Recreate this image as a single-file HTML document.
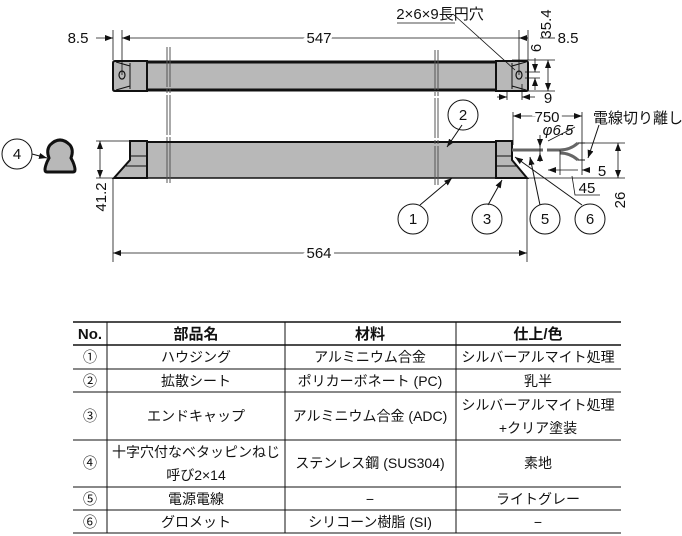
<!DOCTYPE html>
<html><head><meta charset="utf-8"><style>
body{margin:0;background:#fff;width:682px;height:536px;overflow:hidden}
svg{display:block}
text{font-family:"Liberation Sans","Noto Sans CJK JP",sans-serif;fill:#111}
.t{font-size:15px}
.r{font-size:14px}
</style></head><body>
<svg width="682" height="536" viewBox="0 0 682 536" xmlns="http://www.w3.org/2000/svg">
<defs><marker id="a" markerWidth="8" markerHeight="6" refX="8" refY="3" orient="auto-start-reverse" markerUnits="userSpaceOnUse"><path d="M0,0 L8,3 L0,6z" fill="#111"/></marker></defs>
<g stroke="#111" fill="none">
<rect x="147" y="62" width="349" height="28" fill="#b8b8b8" stroke="none"/>
<line x1="147" y1="62" x2="496" y2="62" stroke-width="3"/>
<line x1="147" y1="90" x2="496" y2="90" stroke-width="3"/>
<path d="M115,61 H147 V91 H115 Q113,91 113,89 V63 Q113,61 115,61Z" fill="#b8b8b8" stroke-width="2"/>
<path d="M130,63 V89 M116,62 L130,66 M116,90 L130,86" stroke-width="1"/>
<ellipse cx="122" cy="75" rx="3" ry="4" stroke-width="1.2"/>
<path d="M496,61 H526 Q528,61 528,63 V89 Q528,91 526,91 H496Z" fill="#b8b8b8" stroke-width="2"/>
<path d="M512,63 V89 M526,62 L512,66 M526,90 L512,86" stroke-width="1"/>
<ellipse cx="519" cy="75" rx="3" ry="4" stroke-width="1.2"/>
<rect x="147" y="142" width="349" height="36" fill="#b8b8b8" stroke="none"/>
<line x1="147" y1="142" x2="496" y2="142" stroke-width="2"/>
<line x1="147" y1="178" x2="496" y2="178" stroke-width="1.5"/>
<path d="M130,141 H147 V178 H114 L130,160Z" fill="#b8b8b8" stroke-width="2"/>
<path d="M130,156 H147 M126,166 H147" stroke-width="1"/>
<path d="M496,141 H512 V160 L527,178 H496Z" fill="#b8b8b8" stroke-width="2"/>
<path d="M496,156 H512 M496,166 H518" stroke-width="1"/>
<path d="M167,47 V185 M170,47 V185" stroke="#555" stroke-width="1" stroke-dasharray="40,2,4,2"/>
<path d="M435,50 V185 M438,50 V185" stroke="#555" stroke-width="1" stroke-dasharray="40,2,4,2"/>
<path d="M512,150 H543 M547,150 H560 Q570,150 578,143 M560,153 Q570,153 578,160" stroke="#666" stroke-width="3"/>
<path d="M578,143 H585 M578,160 H585" stroke-width="1"/>
<path d="M113,30 V60 M122,30 V75 M528,30 V60 M519,30 V75" stroke-width="0.8"/>
<line x1="96" y1="38" x2="113" y2="38" marker-end="url(#a)" stroke-width="0.8"/>
<line x1="122" y1="38" x2="528" y2="38" marker-start="url(#a)" stroke-width="0.8"/>
<line x1="519" y1="38" x2="528" y2="38" marker-start="url(#a)" stroke-width="0.8"/>
<line x1="540" y1="38" x2="555" y2="38" stroke-width="0.8"/>
<path d="M512,60 H555 M512,91 H555 M525,72 H540 M525,78 H540 M507,92 V100 M522,84 V100" stroke-width="0.8"/>
<line x1="548" y1="60" x2="548" y2="91" marker-start="url(#a)" marker-end="url(#a)" stroke-width="0.8"/>
<line x1="535" y1="58" x2="535" y2="72" marker-end="url(#a)" stroke-width="0.8"/>
<line x1="535" y1="90" x2="535" y2="78" marker-end="url(#a)" stroke-width="0.8"/>
<line x1="497" y1="97" x2="507" y2="97" marker-end="url(#a)" stroke-width="0.8"/>
<line x1="535" y1="97" x2="522" y2="97" marker-end="url(#a)" stroke-width="0.8"/>
<path d="M113,178 V262 M527,178 V262 M96,141 H130 M96,178 H114" stroke-width="0.8"/>
<line x1="100" y1="141" x2="100" y2="178" marker-start="url(#a)" marker-end="url(#a)" stroke-width="0.8"/>
<line x1="113" y1="253" x2="527" y2="253" marker-start="url(#a)" marker-end="url(#a)" stroke-width="0.8"/>
<path d="M513,112 V145 M582,112 V175" stroke-width="0.8"/>
<line x1="513" y1="116" x2="582" y2="116" marker-start="url(#a)" marker-end="url(#a)" stroke-width="0.8"/>
<path d="M540,141 V160 M560,150 V175 M585,143 H625 M520,178 H625 M572,176 L575,195 H600" stroke-width="0.8"/>
<line x1="540" y1="135" x2="540" y2="147" marker-end="url(#a)" stroke-width="0.8"/>
<line x1="540" y1="162" x2="540" y2="153" marker-end="url(#a)" stroke-width="0.8"/>
<line x1="548" y1="141" x2="575" y2="127" stroke-width="0.8"/>
<line x1="548" y1="170" x2="578" y2="170" marker-start="url(#a)" stroke-width="0.8"/>
<line x1="590" y1="170" x2="582" y2="170" marker-end="url(#a)" stroke-width="0.8"/>
<line x1="618" y1="143" x2="618" y2="178" marker-start="url(#a)" marker-end="url(#a)" stroke-width="0.8"/>
<path d="M32,154 L47,158" stroke-width="1" marker-end="url(#a)"/>
<line x1="420" y1="205" x2="452" y2="178" stroke-width="1" marker-end="url(#a)"/>
<line x1="462" y1="125" x2="447" y2="147" stroke-width="1" marker-end="url(#a)"/>
<line x1="488" y1="205" x2="502" y2="180" stroke-width="1" marker-end="url(#a)"/>
<line x1="540" y1="205" x2="530" y2="157" stroke-width="1" marker-end="url(#a)"/>
<line x1="582" y1="205" x2="515" y2="157" stroke-width="1" marker-end="url(#a)"/>
<line x1="599" y1="125" x2="588" y2="158" stroke-width="1" marker-end="url(#a)"/>
<line x1="453" y1="14" x2="515" y2="70" stroke-width="0.8"/>
<line x1="397" y1="23" x2="455" y2="23" stroke-width="0.8"/>
<circle cx="17" cy="154" r="15"/><circle cx="463" cy="115" r="15"/><circle cx="413" cy="219" r="15"/>
<circle cx="487" cy="219" r="15"/><circle cx="545" cy="219" r="15"/><circle cx="590" cy="219" r="15"/>
<path d="M47,172 Q43,172 47,162 L49,158 Q46,150 50,145 Q60,135 70,145 Q74,150 71,158 L73,162 Q77,172 73,172Z" fill="#b8b8b8" stroke-width="3"/>
</g>
<g class="t" text-anchor="middle">
<text x="17" y="159">4</text><text x="463" y="120">2</text><text x="413" y="224">1</text>
<text x="487" y="224">3</text><text x="545" y="224">5</text><text x="590" y="224">6</text>
<text x="78" y="43">8.5</text><text x="319" y="43" style="paint-order:stroke" stroke="#fff" stroke-width="6">547</text>
<text x="568" y="43">8.5</text><text x="319" y="258" style="paint-order:stroke" stroke="#fff" stroke-width="6">564</text>
<text x="440" y="19">2×6×9長円穴</text>
<text x="548" y="103">9</text><text x="547" y="122" style="paint-order:stroke" stroke="#fff" stroke-width="6">750</text>
<text x="558" y="135" font-style="italic">φ6.5</text><text x="638" y="123">電線切り離し</text>
<text x="602" y="176">5</text><text x="587" y="193">45</text>
<text transform="translate(106,197) rotate(-90)">41.2</text>
<text transform="translate(551,24) rotate(-90)">35.4</text>
<text transform="translate(541,48) rotate(-90)">6</text>
<text transform="translate(625,200) rotate(-90)">26</text>
</g>
<g stroke="#111" fill="none" stroke-width="1">
<path d="M73,322 H621 M73,345 H621 M73,369 H621 M73,392 H621 M73,440 H621 M73,487 H621 M73,510 H621 M73,533 H621" />
<path d="M107,322 V533 M285,322 V533 M456,322 V533"/>
<path d="M73,322 H621 M73,345 H621" stroke-width="1.5"/>
</g>
<g class="t" text-anchor="middle">
<text x="90" y="339" font-weight="bold">No.</text><text x="196" y="339" font-weight="bold">部品名</text>
<text x="370" y="339" font-weight="bold">材料</text><text x="538" y="339" font-weight="bold">仕上/色</text>
</g>
<g class="r" text-anchor="middle">
<text x="90" y="362">①</text><text x="196" y="362">ハウジング</text><text x="370" y="362">アルミニウム合金</text><text x="538" y="362">シルバーアルマイト処理</text>
<text x="90" y="386">②</text><text x="196" y="386">拡散シート</text><text x="370" y="386">ポリカーボネート (PC)</text><text x="538" y="386">乳半</text>
<text x="90" y="421">③</text><text x="196" y="421">エンドキャップ</text><text x="370" y="421">アルミニウム合金 (ADC)</text><text x="538" y="410">シルバーアルマイト処理</text><text x="538" y="433">+クリア塗装</text>
<text x="90" y="468">④</text><text x="196" y="457">十字穴付なベタッピンねじ</text><text x="196" y="480">呼び2×14</text><text x="370" y="468">ステンレス鋼 (SUS304)</text><text x="538" y="468">素地</text>
<text x="90" y="504">⑤</text><text x="196" y="504">電源電線</text><text x="370" y="504">−</text><text x="538" y="504">ライトグレー</text>
<text x="90" y="527">⑥</text><text x="196" y="527">グロメット</text><text x="370" y="527">シリコーン樹脂 (SI)</text><text x="538" y="527">−</text>
</g>
</svg>
</body></html>
